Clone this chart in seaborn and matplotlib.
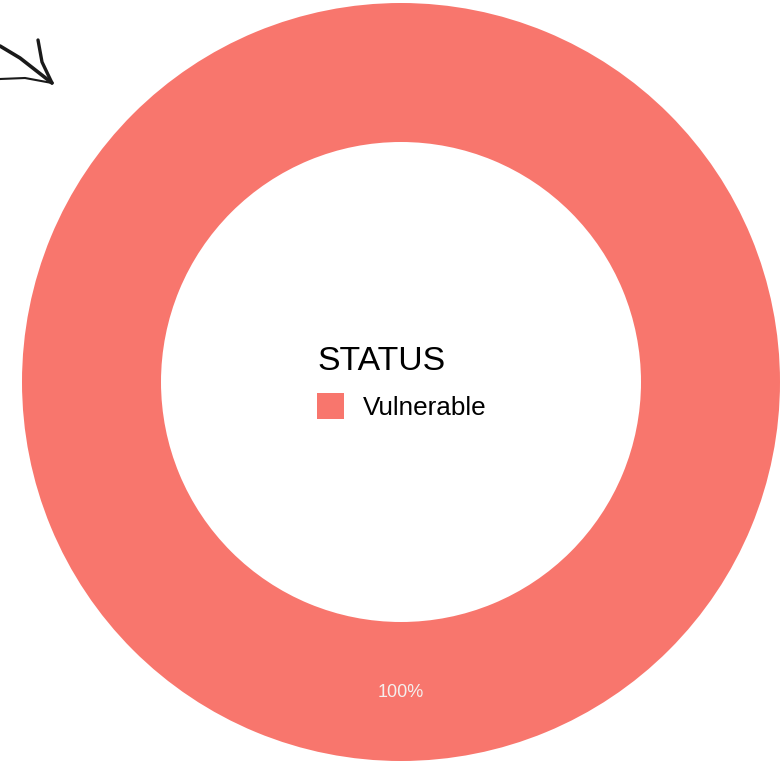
import matplotlib
matplotlib.use("Agg")
import matplotlib.pyplot as plt
from matplotlib.patches import Patch
import seaborn as sns

# Data
status = ["Vulnerable"]
counts = [1]
colors = ["#F8766D"]

sns.set_theme(style="white")
plt.rcParams["font.family"] = ["Liberation Sans", "DejaVu Sans"]
plt.rcParams["text.color"] = "black"

W, H = 782, 764
fig = plt.figure(figsize=(W / 100, H / 100), dpi=100)
ax = fig.add_axes([0, 0, 1, 1])

wedges, texts, autotexts = ax.pie(
    counts,
    colors=colors,
    radius=379,
    center=(401, H - 382),
    startangle=90,
    counterclock=True,
    wedgeprops=dict(width=139, linewidth=0),
    autopct=lambda p: f"{p:.0f}%",
    pctdistance=0.818,
    textprops=dict(color="#F4F0EE", fontsize=13),
)

ax.set_xlim(0, W)
ax.set_ylim(0, H)
ax.set_aspect("equal")
ax.axis("off")

# Legend in the hole of the ring
handles = [Patch(facecolor=c, edgecolor="none") for c in colors]
leg = ax.legend(
    handles, status,
    title="STATUS",
    loc="upper left",
    bbox_to_anchor=(317 / W, 1 - 346 / H),
    frameon=False,
    fontsize=18.8,
    title_fontsize=24.3,
    handlelength=1.04,
    handleheight=1.15,
    handletextpad=0.72,
    labelspacing=0.62,
    borderpad=0,
    borderaxespad=0,
    labelcolor="black",
)
leg.get_title().set_color("black")
leg._legend_box.align = "left"

# Hand-drawn pointer arrow in the corner
ax.plot([0, 20, 52], [H - 46, H - 58, H - 83], color="#1a1a1a", lw=2.6, solid_capstyle="round")
ax.plot([38, 42, 52], [H - 40, H - 62, H - 83], color="#1a1a1a", lw=2.4, solid_capstyle="round")
ax.plot([0, 25, 52], [H - 79, H - 78, H - 83], color="#1a1a1a", lw=1.5, solid_capstyle="round")

fig.savefig("out.png", dpi=100)
